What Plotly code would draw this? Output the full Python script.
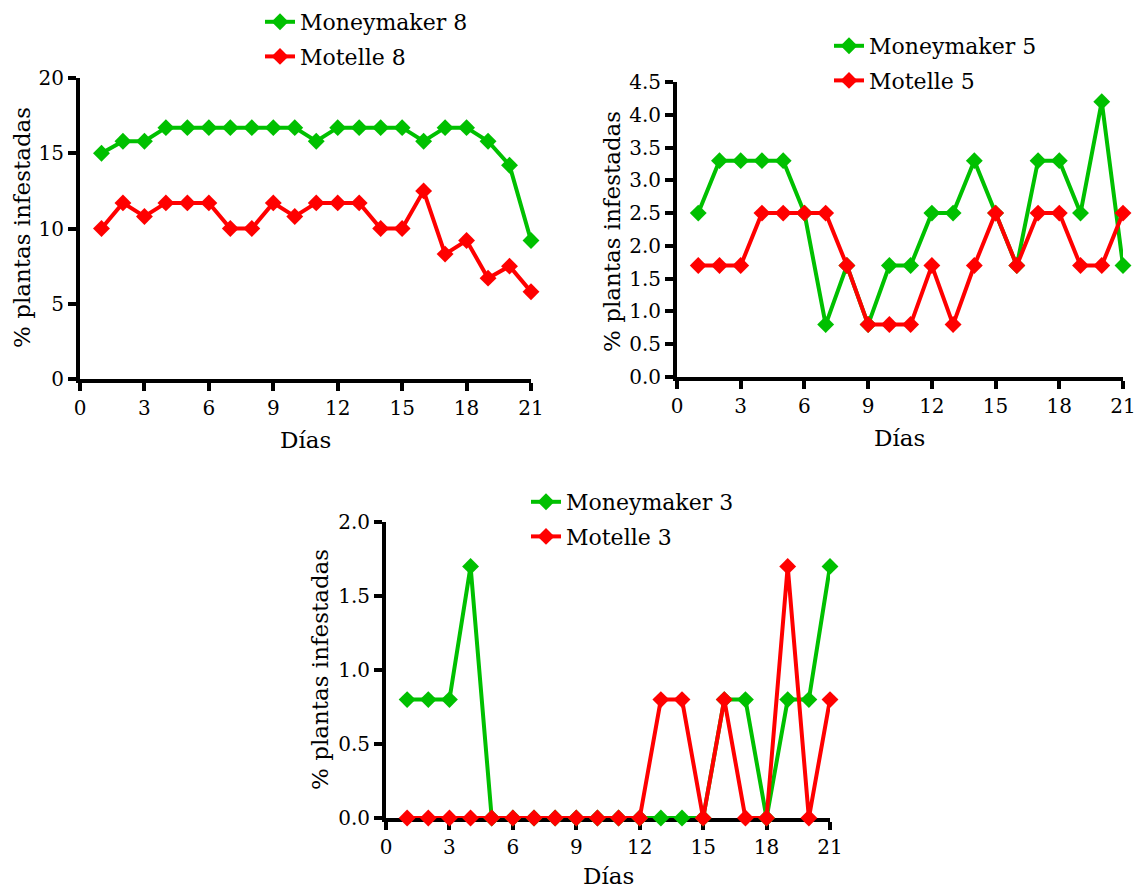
import plotly.graph_objects as go

days = list(range(1, 22))

moneymaker8 = [15.0, 15.8, 15.8, 16.7, 16.7, 16.7, 16.7, 16.7, 16.7, 16.7, 15.8,
               16.7, 16.7, 16.7, 16.7, 15.8, 16.7, 16.7, 15.8, 14.2, 9.2]
motelle8 = [10.0, 11.7, 10.8, 11.7, 11.7, 11.7, 10.0, 10.0, 11.7, 10.8, 11.7,
            11.7, 11.7, 10.0, 10.0, 12.5, 8.3, 9.2, 6.7, 7.5, 5.8]

moneymaker5 = [2.5, 3.3, 3.3, 3.3, 3.3, 2.5, 0.8, 1.7, 0.8, 1.7, 1.7,
               2.5, 2.5, 3.3, 2.5, 1.7, 3.3, 3.3, 2.5, 4.2, 1.7]
motelle5 = [1.7, 1.7, 1.7, 2.5, 2.5, 2.5, 2.5, 1.7, 0.8, 0.8, 0.8,
            1.7, 0.8, 1.7, 2.5, 1.7, 2.5, 2.5, 1.7, 1.7, 2.5]

moneymaker3 = [0.8, 0.8, 0.8, 1.7, 0.0, 0.0, 0.0, 0.0, 0.0, 0.0, 0.0,
               0.0, 0.0, 0.0, 0.0, 0.8, 0.8, 0.0, 0.8, 0.8, 1.7]
motelle3 = [0.0, 0.0, 0.0, 0.0, 0.0, 0.0, 0.0, 0.0, 0.0, 0.0, 0.0,
            0.0, 0.8, 0.8, 0.0, 0.8, 0.0, 0.0, 1.7, 0.0, 0.8]

x_ticks = [0, 3, 6, 9, 12, 15, 18, 21]
y_ticks8 = [0, 5, 10, 15, 20]
y_ticks5 = [0.0, 0.5, 1.0, 1.5, 2.0, 2.5, 3.0, 3.5, 4.0, 4.5]
y_ticks3 = [0.0, 0.5, 1.0, 1.5, 2.0]

x_title = "Días"
y_title = "% plantas infestadas"

GREEN = "#00C000"
RED = "#FF0000"
FONT = "DejaVu Serif"
W, H = 1135, 888

fig = go.Figure()

panels = [
    ("x", "y", "legend", moneymaker8, motelle8, "Moneymaker 8", "Motelle 8"),
    ("x2", "y2", "legend2", moneymaker5, motelle5, "Moneymaker 5", "Motelle 5"),
    ("x3", "y3", "legend3", moneymaker3, motelle3, "Moneymaker 3", "Motelle 3"),
]
for xa, ya, lg, g, r, gn, rn in panels:
    for vals, name, col in ((g, gn, GREEN), (r, rn, RED)):
        fig.add_trace(go.Scatter(
            x=days, y=vals, name=name, xaxis=xa, yaxis=ya, legend=lg,
            legendgroup=name,
            mode="lines+markers", cliponaxis=False,
            line=dict(color=col, width=4),
            marker=dict(symbol="diamond", size=13, color=col),
        ))

def fx(px):
    return px / W

def fy(px):
    return 1 - px / H

def dom_x(a, b):
    return [fx(a), fx(b)]

def dom_y(top, bottom):
    return [fy(bottom), fy(top)]

axis_common = dict(
    showline=True, linewidth=4, linecolor="black",
    ticks="outside", ticklen=8, tickwidth=4, tickcolor="black",
    showgrid=False, zeroline=False, layer="below traces",
    tickfont=dict(family=FONT, size=20, color="black"),
    fixedrange=True, automargin=False, ticklabeloverflow="allow",
)

fig.update_layout(
    width=W, height=H,
    margin=dict(l=0, r=0, t=0, b=0, autoexpand=False),
    paper_bgcolor="white", plot_bgcolor="white",
    font=dict(family=FONT, size=20, color="black"),
    xaxis=dict(domain=dom_x(80, 531), range=[0, 21], tickvals=x_ticks, anchor="y", **axis_common),
    yaxis=dict(domain=dom_y(78, 379), range=[0, 20], tickvals=y_ticks8, anchor="x", **axis_common),
    xaxis2=dict(domain=dom_x(677, 1123), range=[0, 21], tickvals=x_ticks, anchor="y2", **axis_common),
    yaxis2=dict(domain=dom_y(82, 377), range=[0, 4.5], tickvals=y_ticks5, tickformat=".1f", anchor="x2", **axis_common),
    xaxis3=dict(domain=dom_x(386, 830), range=[0, 21], tickvals=x_ticks, anchor="y3", **axis_common),
    yaxis3=dict(domain=dom_y(522, 818), range=[0, 2.0], tickvals=y_ticks3, tickformat=".1f", anchor="x3", **axis_common),
    showlegend=True,
)

leg_common = dict(
    xanchor="left", yanchor="top", bgcolor="rgba(0,0,0,0)",
    font=dict(family=FONT, size=22, color="black"),
    tracegroupgap=3, itemclick=False, itemdoubleclick=False,
)
fig.update_layout(
    legend=dict(x=fx(260), y=fy(1), **leg_common),
    legend2=dict(x=fx(829), y=fy(25), **leg_common),
    legend3=dict(x=fx(526), y=fy(481), **leg_common),
)

annots = [
    (305, 440, x_title, 0),
    (22, 228, y_title, -90),
    (900, 438, x_title, 0),
    (612, 232, y_title, -90),
    (608, 876, x_title, 0),
    (320, 670, y_title, -90),
]
for x, y, t, ang in annots:
    fig.add_annotation(
        x=fx(x), y=fy(y), xref="paper", yref="paper", text=t,
        showarrow=False, textangle=ang, xanchor="center", yanchor="middle",
        font=dict(family=FONT, size=23, color="black"),
    )

# remove the default page margin so the figure fills the window exactly
page_fix = (
    "document.body.style.margin='0';"
    "document.body.style.overflow='hidden';"
    "document.documentElement.style.overflow='hidden';"
)
fig.write_html("out.html", post_script=page_fix, config={"displayModeBar": False})
